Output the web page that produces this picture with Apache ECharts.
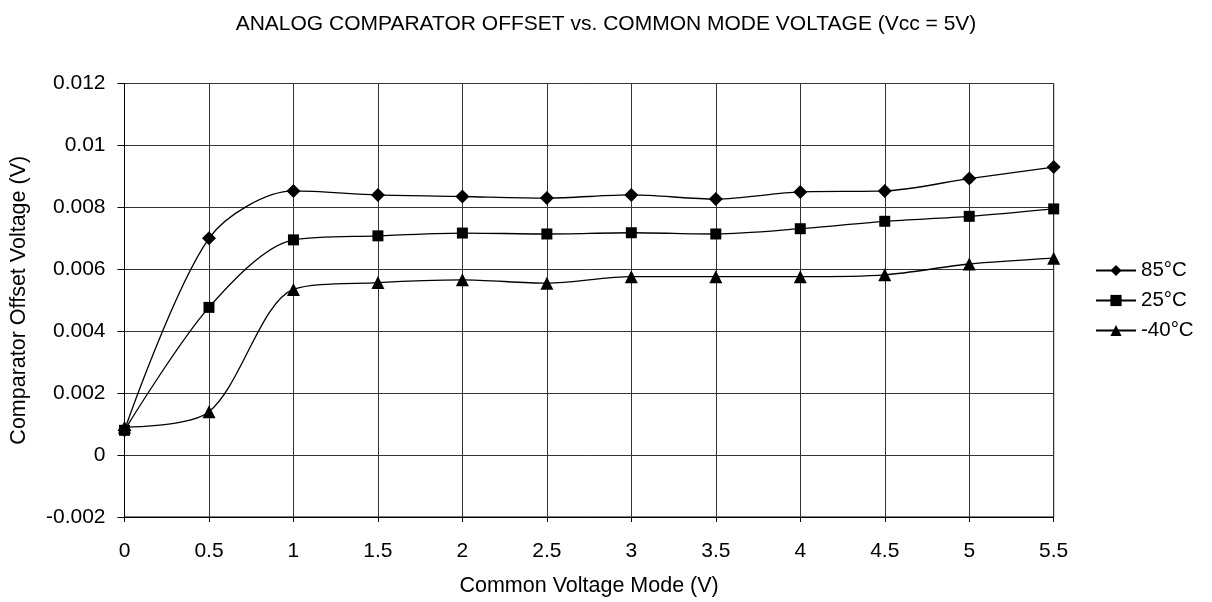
<!DOCTYPE html>
<html><head><meta charset="utf-8">
<script src="https://cdn.jsdelivr.net/npm/echarts@6/dist/echarts.min.js"></script>
<style>html,body{margin:0;padding:0;background:#fff}#c{width:1212px;height:602px}</style>
</head><body><div id="c"></div>
<script>
var xValues = [0, 0.5, 1, 1.5, 2, 2.5, 3, 3.5, 4, 4.5, 5, 5.5];
var s85 = [0.0008, 0.0070, 0.00853, 0.0084, 0.00835, 0.0083, 0.0084, 0.00827, 0.0085, 0.00853, 0.00893, 0.0093];
var s25 = [0.0008, 0.00477, 0.00695, 0.00708, 0.00717, 0.00714, 0.00718, 0.00714, 0.00731, 0.00755, 0.00771, 0.00795];
var sm40 = [0.0009, 0.0014, 0.00535, 0.00557, 0.00566, 0.00555, 0.00576, 0.00576, 0.00576, 0.00582, 0.00617, 0.00636];
var seriesNames = ['85°C', '25°C', '-40°C'];
var yTickLabels = {'-0.002':'-0.002','0':'0','0.002':'0.002','0.004':'0.004','0.006':'0.006','0.008':'0.008','0.01':'0.01','0.012':'0.012'};

function pairs(arr){ return xValues.map(function(x,i){ return [x, arr[i]]; }); }
var FONT = 'Liberation Sans';
var chart = echarts.init(document.getElementById('c'), null, {renderer:'canvas'});
function mk(name, data, symbol, size){
  return {
    name: name, type: 'line', data: pairs(data), smooth: 0.3,
    symbol: symbol, symbolSize: size,
    lineStyle: {color:'#000', width:1.3},
    itemStyle: {color:'#000'},
    emphasis: {disabled:true}, animation:false
  };
}
chart.setOption({
  animation: false,
  textStyle: {fontFamily: FONT},
  title: {
    text: 'ANALOG COMPARATOR OFFSET vs. COMMON MODE VOLTAGE (Vcc = 5V)',
    left: 'center', top: 9,
    textStyle: {fontFamily: FONT, fontSize: 21, fontWeight: 'normal', color:'#000'}
  },
  legend: {
    orient: 'vertical', left: 1095, top: 260, padding: 0,
    itemWidth: 40, itemHeight: 14, itemGap: 9,
    textStyle: {fontFamily: FONT, fontSize: 20.5, color:'#000'},
    data: seriesNames
  },
  grid: {left: 124.5, top: 83.5, right: 158.3, bottom: 85, show: true, borderColor:'#000', borderWidth:1, containLabel:false, outerBoundsMode:'none'},
  xAxis: {
    type: 'value', min: 0, max: 5.5, interval: 0.5,
    name: 'Common Voltage Mode (V)', nameLocation: 'middle', nameGap: 58,
    nameTextStyle: {fontFamily: FONT, fontSize: 21.5, color:'#000'},
    axisLine: {show:true, onZero:false, lineStyle:{color:'#000', width:1}},
    axisTick: {show:true, length:5, lineStyle:{color:'#000'}},
    axisLabel: {fontFamily: FONT, fontSize: 21, color:'#000', margin: 24},
    splitLine: {show:true, lineStyle:{color:'#333', width:1}}
  },
  yAxis: {
    type: 'value', min: -0.002, max: 0.012, interval: 0.002,
    name: 'Comparator Offset Voltage (V)', nameLocation: 'middle', nameGap: 94,
    nameTextStyle: {fontFamily: FONT, fontSize: 21.5, color:'#000'},
    axisLine: {show:true, onZero:false, lineStyle:{color:'#000', width:1}},
    axisTick: {show:true, length:7, lineStyle:{color:'#000'}},
    axisLabel: {fontFamily: FONT, fontSize: 21, color:'#000', margin: 19,
      formatter: function(v){ var k = String(Math.round(v*1000)/1000); return yTickLabels[k] !== undefined ? yTickLabels[k] : k; }},
    splitLine: {show:true, lineStyle:{color:'#333', width:1}}
  },
  series: [
    mk(seriesNames[0], s85, 'diamond', 14),
    mk(seriesNames[1], s25, 'rect', 11),
    mk(seriesNames[2], sm40, 'triangle', 13)
  ]
});
</script></body></html>
